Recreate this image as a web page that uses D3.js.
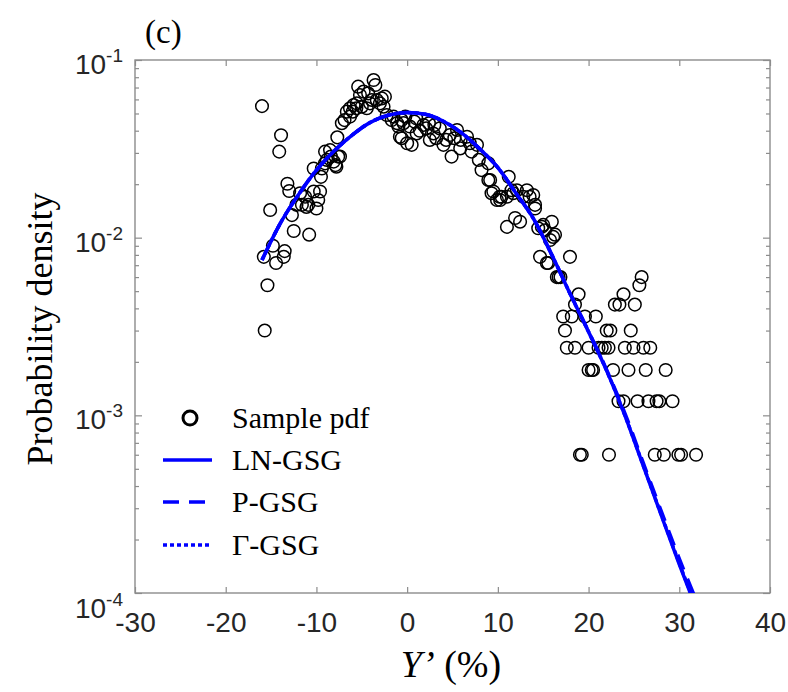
<!DOCTYPE html>
<html>
<head>
<meta charset="utf-8">
<script src="https://cdn.jsdelivr.net/npm/d3@7/dist/d3.min.js"></script>
<style>
  body { margin: 0; background: #fff; }
</style>
</head>
<body>
<div class="container-pdf"></div>
<script>
// sample pdf points (Y' in %, density)
const sampleX = [
  -16.0, -13.9, -14.1, -13.2, -13.0, -15.1, -12.7, -12.2, -11.6, -11.1,
  -10.0, -10.3, -9.6, -12.5, -10.8, -14.8, -15.8, -13.5, -13.6, -14.45,
  -15.4, -15.7, -11.8, -11.25, -9.8, -10.9, -9.4, -10.3, -8.85, -8.1,
  -7.8, -7.6, -9.05, -9.5, -9.05, -8.5, -7.9, -7.7, -7.4, -8.4,
  -7.2, -6.9, -6.3, -6.65, -6.3, -5.9, -5.55, -5.0, -4.45, -4.1,
  -3.35, -2.8, -2.45, -5.2, -5.4, -4.8, -3.7, -3.5, -4.3, -3.9,
  -3.0, -2.6, -6.0, -5.6, -2.25, -1.7, -0.6, -0.96, -0.6, 0.0,
  -1.5, -0.4, -0.8, 0.3, 0.5, 1.05, 1.8, 2.5, 2.9, 3.6,
  4.0, 4.7, 4.9, 5.5, 5.85, 6.6, 7.1, 7.7, 7.9, 8.2,
  8.95, 8.95, 9.5, 9.9, 10.2, 11.2, 11.5, 12.1, 13.2, 13.5,
  14.1, 11.0, -1.1, 1.4, 2.1, 3.2, 4.3, 5.2, 5.9, 6.9,
  0.8, 2.4, -0.2, 1.0, 3.0, 10.25, 11.7, 12.8, 13.9, 14.1,
  11.0, 11.9, 12.45, 14.85, 15.95, 15.2, 16.3, 15.75, 14.65, 15.4,
  17.95, 16.5, 16.7, 16.9, 18.9, 18.5, 17.2, 18.15, 19.6, 20.8,
  17.4, 22.0, 22.4, 24.65, 17.6, 18.5, 20.0, 21.1, 21.45, 21.8,
  22.2, 24.0, 24.95, 26.05, 26.8, 20.0, 20.35, 20.5, 22.7, 24.4,
  26.3, 28.5, 23.3, 23.85, 25.4, 26.6, 27.5, 27.8, 29.25, 19.05,
  19.25, 22.25, 27.3, 28.3, 29.9, 30.2, 31.85, 23.85, 22.9, 23.4,
  25.1, 25.85, 25.6, 15.55, 9.15, 9.3, 10.4, 16.1, 15.0, 14.45
];
const sampleY = [
  0.055, 0.0377, 0.0305, 0.0201, 0.0183, 0.0143, 0.0134, 0.0153, 0.0153, 0.0149,
  0.0146, 0.0182, 0.0182, 0.0109, 0.0104, 0.0090, 0.0078, 0.0084, 0.0078, 0.0072,
  0.0054, 0.0030, 0.0178, 0.0170, 0.0163, 0.0153, 0.0245, 0.0245, 0.0274, 0.0268,
  0.0251, 0.0286, 0.0305, 0.0220, 0.0262, 0.0311, 0.0256, 0.0367, 0.0286, 0.0286,
  0.0441, 0.0459, 0.0480, 0.0512, 0.0535, 0.0558, 0.0570, 0.0546, 0.0535, 0.0570,
  0.0596, 0.0608, 0.0622, 0.0635, 0.0708, 0.0664, 0.0771, 0.0723, 0.0649, 0.0596,
  0.0570, 0.0546, 0.0512, 0.0535, 0.0490, 0.0459, 0.0459, 0.0422, 0.0363, 0.0340,
  0.0480, 0.0441, 0.0370, 0.0422, 0.0333, 0.0386, 0.0431, 0.0355, 0.0386, 0.0412,
  0.0333, 0.0378, 0.0286, 0.0404, 0.0318, 0.0370, 0.0305, 0.0333, 0.0274, 0.0240,
  0.0262, 0.0211, 0.0182, 0.0163, 0.0170, 0.0220, 0.0185, 0.0185, 0.0185, 0.0170,
  0.0153, 0.0170, 0.0441, 0.0400, 0.0412, 0.0363, 0.0355, 0.0363, 0.0355, 0.0340,
  0.0450, 0.0440, 0.0480, 0.0470, 0.0430, 0.0163, 0.0178, 0.0170, 0.0174, 0.0146,
  0.0115, 0.0129, 0.0123, 0.0115, 0.0123, 0.0110, 0.0104, 0.0097, 0.0078, 0.0072,
  0.0078, 0.0060, 0.0060, 0.0060, 0.0048, 0.0042, 0.0036, 0.0036, 0.0036, 0.0036,
  0.0030, 0.0030, 0.0030, 0.0030, 0.0024, 0.0024, 0.0024, 0.0024, 0.0024, 0.0024,
  0.0024, 0.0024, 0.0024, 0.0024, 0.0024, 0.0018, 0.0018, 0.0018, 0.0018, 0.0018,
  0.0018, 0.0018, 0.0012, 0.0012, 0.0012, 0.0012, 0.0012, 0.0012, 0.0012, 0.0006,
  0.0006, 0.0006, 0.0006, 0.0006, 0.0006, 0.0006, 0.0006, 0.0048, 0.0042, 0.0042,
  0.0042, 0.0060, 0.0054, 0.0072, 0.0211, 0.0178, 0.0170, 0.0101, 0.0118, 0.0113
];

// fitted pdf curves
const fitX = [-16, -14, -12, -10, -8, -6, -4, -2, 0, 2, 4, 6, 8, 10, 12, 14, 16, 18, 20, 22, 24, 26, 28, 30, 32];
const lnGsgY = [0.00748, 0.0120, 0.0174, 0.0240, 0.0309, 0.0380, 0.0447, 0.0490, 0.0506, 0.0495, 0.0452, 0.0389, 0.0316, 0.0248,
  0.0178, 0.0126, 0.0079, 0.00479, 0.00295, 0.00178, 0.00100, 0.000525, 0.000275, 0.000145, 0.0000785];
const pGsgY = [0.00748, 0.0120, 0.0174, 0.0240, 0.0309, 0.0380, 0.0447, 0.0490, 0.0506, 0.0495, 0.0452, 0.0389, 0.0316, 0.0248,
  0.0178, 0.0126, 0.0079, 0.00480, 0.00297, 0.00180, 0.00103, 0.000545, 0.000290, 0.000156, 0.000088];
const gammaGsgY = [0.00748, 0.0120, 0.0174, 0.0240, 0.0309, 0.0380, 0.0447, 0.0490, 0.0506, 0.0495, 0.0452, 0.0389, 0.0316, 0.0248,
  0.0178, 0.0126, 0.0079, 0.00479, 0.00295, 0.00178, 0.00100, 0.000527, 0.000277, 0.000147, 0.0000795];

const xTicks = [-30, -20, -10, 0, 10, 20, 30, 40];
const yTicks = [1e-4, 1e-3, 1e-2, 1e-1];
const yTickExponents = ['-4', '-3', '-2', '-1'];
const legendLabels = ['Sample pdf', 'LN-GSG', 'P-GSG', '\u0393-GSG'];

const width = 788;
const height = 692;
const plot = { left: 135, right: 770, top: 60, bottom: 593 };
const axisColor = '#8c8c8c';
const labelColor = '#262626';
const blue = '#0000ff';

const scaleX = d3.scaleLinear()
  .domain([-30, 40])
  .range([plot.left, plot.right]);

const scaleY = d3.scaleLog()
  .domain([1e-4, 1e-1])
  .range([plot.bottom, plot.top]);

const minorTicks = [];
yTicks.slice(0, -1).forEach(d => {
  for (let k = 2; k <= 9; k++) minorTicks.push(d * k);
});

const svg = d3.select('.container-pdf')
  .append('svg')
  .attr('xmlns', 'http://www.w3.org/2000/svg')
  .attr('width', width)
  .attr('height', height);

svg.append('defs')
  .append('clipPath')
  .attr('id', 'clip-plot')
  .append('rect')
  .attr('x', plot.left)
  .attr('y', plot.top)
  .attr('width', plot.right - plot.left)
  .attr('height', plot.bottom - plot.top);

// axes, ticks inside like matlab
const styleAxis = g => {
  g.select('.domain').remove();
  g.selectAll('.tick line').attr('stroke', axisColor).attr('stroke-width', 1.2);
  g.selectAll('.tick text')
    .attr('fill', labelColor)
    .style('font-family', '"Liberation Sans", Arial, sans-serif')
    .style('font-size', '28px');
};

svg.append('g')
  .attr('transform', `translate(0, ${plot.bottom})`)
  .call(d3.axisBottom(scaleX).tickValues(xTicks).tickSizeInner(-6).tickSizeOuter(0).tickPadding(19)
    .tickFormat(d => `${d}`))
  .call(styleAxis);

svg.append('g')
  .attr('transform', `translate(0, ${plot.top})`)
  .call(d3.axisTop(scaleX).tickValues(xTicks).tickSizeInner(-6).tickSizeOuter(0).tickFormat(''))
  .call(styleAxis);

svg.append('g')
  .attr('transform', `translate(${plot.left}, 0)`)
  .call(d3.axisLeft(scaleY).tickValues(yTicks).tickSizeInner(-7).tickSizeOuter(0).tickFormat(''))
  .call(styleAxis);

svg.append('g')
  .attr('transform', `translate(${plot.left}, 0)`)
  .call(d3.axisLeft(scaleY).tickValues(minorTicks).tickSizeInner(-4).tickSizeOuter(0).tickFormat(''))
  .call(styleAxis);

svg.append('g')
  .attr('transform', `translate(${plot.right}, 0)`)
  .call(d3.axisRight(scaleY).tickValues(yTicks).tickSizeInner(-7).tickSizeOuter(0).tickFormat(''))
  .call(styleAxis);

svg.append('g')
  .attr('transform', `translate(${plot.right}, 0)`)
  .call(d3.axisRight(scaleY).tickValues(minorTicks).tickSizeInner(-4).tickSizeOuter(0).tickFormat(''))
  .call(styleAxis);

svg.append('rect')
  .attr('x', plot.left)
  .attr('y', plot.top)
  .attr('width', plot.right - plot.left)
  .attr('height', plot.bottom - plot.top)
  .attr('fill', 'none')
  .attr('stroke', axisColor)
  .attr('stroke-width', 1.4);

// y tick labels as 10^n; the bottom one sits lower, clear of the x axis
const yLabels = svg.append('g')
  .selectAll('text')
  .data(yTicks)
  .enter()
  .append('text')
  .attr('x', plot.left - 12)
  .attr('y', (d, i) => scaleY(d) + (i === 0 ? 25 : 14))
  .attr('text-anchor', 'end')
  .attr('fill', labelColor)
  .style('font-family', '"Liberation Sans", Arial, sans-serif')
  .style('font-size', '28px');

yLabels.append('tspan').text('10');
yLabels.append('tspan')
  .attr('dy', -12)
  .style('font-size', '19px')
  .text((d, i) => yTickExponents[i]);

// scatter
const groupChart = svg.append('g').attr('clip-path', 'url(#clip-plot)');

groupChart.selectAll('circle.point')
  .data(sampleX)
  .enter()
  .append('circle')
  .attr('class', 'point')
  .attr('cx', d => scaleX(d))
  .attr('cy', (d, i) => scaleY(sampleY[i]))
  .attr('r', 6.3)
  .attr('fill', 'none')
  .attr('stroke', '#000')
  .attr('stroke-width', 1.5);

const lineFor = values => d3.line()
  .x(d => scaleX(d))
  .y((d, i) => scaleY(values[i]))
  .curve(d3.curveMonotoneX)(fitX);

groupChart.append('path')
  .attr('d', lineFor(pGsgY))
  .attr('fill', 'none')
  .attr('stroke', blue)
  .attr('stroke-width', 3.5)
  .attr('stroke-dasharray', '16,10');

groupChart.append('path')
  .attr('d', lineFor(gammaGsgY))
  .attr('fill', 'none')
  .attr('stroke', blue)
  .attr('stroke-width', 3.5)
  .attr('stroke-dasharray', '4,3');

groupChart.append('path')
  .attr('d', lineFor(lnGsgY))
  .attr('fill', 'none')
  .attr('stroke', blue)
  .attr('stroke-width', 3.5);

// legend
const legend = svg.append('g');
const legendRowY = [418, 460, 502, 545];
const legendDash = [null, null, '16,10', '4,3'];

legend.append('circle')
  .attr('cx', 190)
  .attr('cy', legendRowY[0])
  .attr('r', 7)
  .attr('fill', 'none')
  .attr('stroke', '#000')
  .attr('stroke-width', 3);

legend.selectAll('line')
  .data(legendRowY.slice(1))
  .enter()
  .append('line')
  .attr('x1', 163)
  .attr('x2', 212)
  .attr('y1', d => d)
  .attr('y2', d => d)
  .attr('stroke', blue)
  .attr('stroke-width', 3.5)
  .attr('stroke-dasharray', (d, i) => legendDash[i + 1]);

legend.selectAll('text')
  .data(legendLabels)
  .enter()
  .append('text')
  .attr('x', 232)
  .attr('y', (d, i) => legendRowY[i] + 10)
  .style('font-family', '"Liberation Serif", "Times New Roman", serif')
  .style('font-size', '30px')
  .attr('fill', '#000')
  .text(d => d);

// titles
svg.append('text')
  .attr('x', 145)
  .attr('y', 43)
  .style('font-family', '"Liberation Serif", "Times New Roman", serif')
  .style('font-size', '33px')
  .text('(c)');

svg.append('text')
  .attr('transform', 'translate(52, 329) rotate(-90)')
  .attr('text-anchor', 'middle')
  .style('font-family', '"Liberation Serif", "Times New Roman", serif')
  .style('font-size', '36px')
  .text('Probability density');

const xTitle = svg.append('text')
  .attr('x', 451)
  .attr('y', 677)
  .attr('text-anchor', 'middle')
  .style('font-family', '"Liberation Serif", "Times New Roman", serif')
  .style('font-size', '38px');

xTitle.append('tspan').style('font-style', 'italic').text('Y\u2019');
xTitle.append('tspan').text(' (%)');
</script>
</body>
</html>
